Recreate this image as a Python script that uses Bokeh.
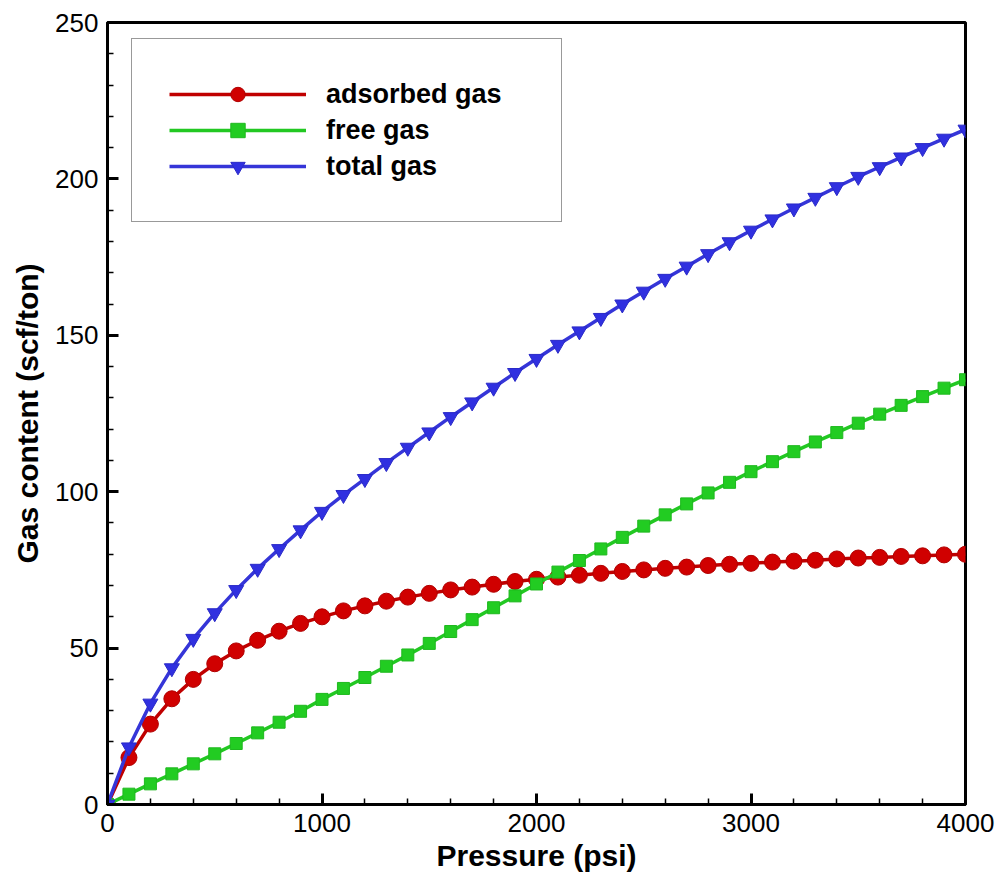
from bokeh.plotting import figure
from bokeh.models import Range1d, SingleIntervalTicker, Legend, LegendItem
from bokeh.embed import file_html
from bokeh.resources import INLINE

pressure = [0, 100, 200, 300, 400, 500, 600, 700, 800, 900, 1000,
            1100, 1200, 1300, 1400, 1500, 1600, 1700, 1800, 1900, 2000,
            2100, 2200, 2300, 2400, 2500, 2600, 2700, 2800, 2900, 3000,
            3100, 3200, 3300, 3400, 3500, 3600, 3700, 3800, 3900, 4000]

adsorbed_gas = [0.0, 15.0, 25.7, 33.8, 40.0, 45.0, 49.1, 52.5, 55.4, 57.9, 60.0,
                61.9, 63.5, 65.0, 66.3, 67.5, 68.6, 69.5, 70.4, 71.3, 72.0,
                72.7, 73.3, 73.9, 74.5, 75.0, 75.5, 75.9, 76.4, 76.8, 77.1,
                77.5, 77.8, 78.1, 78.5, 78.8, 79.0, 79.3, 79.5, 79.8, 80.0]

free_gas = [0.0, 3.3, 6.6, 9.8, 13.0, 16.2, 19.5, 22.9, 26.3, 29.8, 33.6,
            37.1, 40.6, 44.2, 47.8, 51.5, 55.3, 59.1, 62.9, 66.7, 70.5,
            74.3, 78.0, 81.7, 85.4, 89.0, 92.6, 96.1, 99.6, 103.0, 106.4,
            109.6, 112.8, 115.9, 118.9, 121.9, 124.8, 127.6, 130.4, 133.1, 135.8]

total_gas = [0.0, 18.3, 32.3, 43.6, 53.0, 61.2, 68.6, 75.4, 81.7, 87.7, 93.6,
             99.0, 104.1, 109.2, 114.1, 119.0, 123.9, 128.6, 133.3, 138.0, 142.5,
             147.0, 151.3, 155.6, 159.9, 164.0, 168.1, 172.0, 176.0, 179.8, 183.5,
             187.1, 190.6, 194.0, 197.4, 200.7, 203.8, 206.9, 209.9, 212.9, 215.8]

series_labels = ["adsorbed gas", "free gas", "total gas"]
x_title = "Pressure (psi)"
y_title = "Gas content (scf/ton)"

FONT = "Liberation Sans"

p = figure(frame_width=858, frame_height=782,
           min_border_left=107, min_border_right=37, min_border_top=22, min_border_bottom=76,
           x_range=Range1d(0, 4000), y_range=Range1d(0, 250),
           output_backend="svg", toolbar_location=None)

p.background_fill_color = "white"
p.border_fill_color = "white"
p.outline_line_color = "black"
p.outline_line_width = 3
p.xgrid.visible = False
p.ygrid.visible = False

p.xaxis.ticker = SingleIntervalTicker(interval=1000, num_minor_ticks=5)
p.yaxis.ticker = SingleIntervalTicker(interval=50, num_minor_ticks=5)

for ax in (p.xaxis[0], p.yaxis[0]):
    ax.axis_line_width = 3
    ax.axis_line_color = "black"
    ax.major_tick_in = 11
    ax.major_tick_out = 0
    ax.major_tick_line_width = 3
    ax.minor_tick_in = 6
    ax.minor_tick_out = 0
    ax.minor_tick_line_width = 1.5
    ax.major_label_text_font = FONT
    ax.major_label_text_font_size = "26px"
    ax.major_label_text_color = "black"
    ax.major_label_standoff = 9
    ax.axis_label_text_font = FONT
    ax.axis_label_text_font_style = "bold"
    ax.axis_label_text_font_size = "30px"
    ax.axis_label_text_color = "black"

p.xaxis.axis_label = x_title
p.yaxis.axis_label = y_title
p.xaxis.axis_label_standoff = 4
p.yaxis.axis_label_standoff = 8

red_line = p.line(pressure, adsorbed_gas, line_color="#C00000", line_width=3.5)
red_pts = p.scatter(pressure, adsorbed_gas, marker="circle", size=16,
                    fill_color="#D00000", line_color="#B00000", line_width=1)
green_line = p.line(pressure, free_gas, line_color="#22C822", line_width=3.5)
green_pts = p.scatter(pressure, free_gas, marker="square", size=12,
                      fill_color="#22CC22", line_color="#1EB81E", line_width=1)
blue_line = p.line(pressure, total_gas, line_color="#3535D8", line_width=3.5)
blue_pts = p.scatter(pressure, total_gas, marker="inverted_triangle", size=15,
                     fill_color="#3030E0", line_color="#2A2AC8", line_width=1)

legend = Legend(items=[
    LegendItem(label=series_labels[0], renderers=[red_line, red_pts]),
    LegendItem(label=series_labels[1], renderers=[green_line, green_pts]),
    LegendItem(label=series_labels[2], renderers=[blue_line, blue_pts]),
], location=(24, 582))
legend.padding = 37
legend.spacing = 0
legend.margin = 0
legend.glyph_width = 137
legend.glyph_height = 36
legend.label_height = 36
legend.label_width = 198
legend.label_standoff = 20
legend.label_text_font = FONT
legend.label_text_font_style = "bold"
legend.label_text_font_size = "27px"
legend.label_text_color = "black"
legend.border_line_color = "#333333"
legend.border_line_width = 1.5
legend.background_fill_color = "white"
legend.background_fill_alpha = 1.0
p.add_layout(legend, "center")

open("out.html", "w").write(file_html(p, INLINE))
